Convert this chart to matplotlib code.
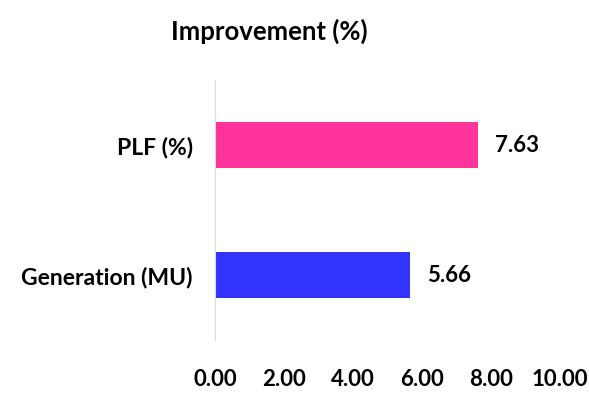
import matplotlib
matplotlib.use("Agg")
import matplotlib.pyplot as plt

categories = ["Generation (MU)", "PLF (%)"]
values = [5.66, 7.63]
colors = ["#3333FF", "#FF3399"]
xticks = [0, 2, 4, 6, 8, 10]
title = "Improvement (%)"

plt.rcParams['font.family'] = ['Lato', 'DejaVu Sans']

fig = plt.figure(figsize=(5.89, 4.0), dpi=100)
ax = fig.add_axes([215/589, 1-340/400, 345/589, 260/400])
ypos = list(range(len(categories)))
bars = ax.barh(ypos, values, height=0.35, color=colors)
ax.set_xlim(0, 10)
ax.set_ylim(-0.5, 1.5)
ax.set_xticks(xticks)
ax.set_xticklabels([f"{t:.2f}" for t in xticks], fontsize=16, fontweight='bold')
ax.set_yticks(ypos)
ax.set_yticklabels(categories, fontsize=16.5, fontweight='bold')
ax.tick_params(axis='both', length=0)
ax.tick_params(axis='x', pad=21)
ax.tick_params(axis='y', pad=16)
for s in ['top', 'right', 'bottom']:
    ax.spines[s].set_visible(False)
ax.spines['left'].set_color('#d9d9d9')
for b, v in zip(bars, values):
    ax.annotate(f"{v:.2f}", (v, b.get_y() + b.get_height()/2), xytext=(12, 0),
                textcoords='offset points', va='center', ha='left',
                fontsize=16, fontweight='bold')
fig.text(269/589, 1-31/400, title, ha='center', va='center', fontsize=18.5, fontweight='bold')
fig.savefig("out.png", dpi=100)
